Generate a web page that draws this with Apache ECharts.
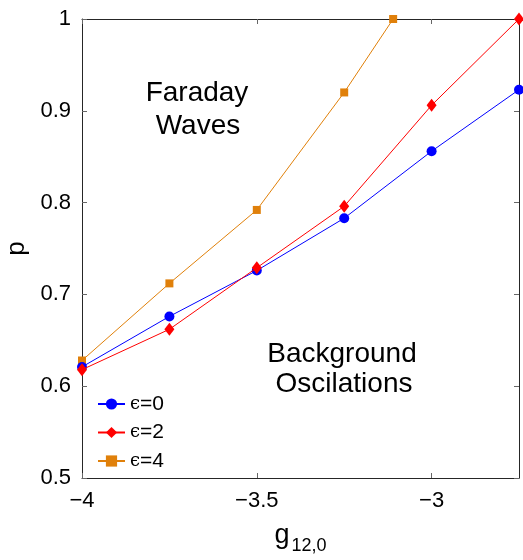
<!DOCTYPE html>
<html>
<head>
<meta charset="utf-8">
<script src="https://cdn.jsdelivr.net/npm/echarts@6/dist/echarts.min.js"></script>
<style>
  html, body { margin: 0; padding: 0; background: #fff; }
  #chart { width: 523px; height: 560px; }
</style>
</head>
<body>
<div id="chart"></div>
<script>
// data
var xEps0 = [-4, -3.75, -3.5, -3.25, -3, -2.75]
var yEps0 = [0.621, 0.676, 0.726, 0.783, 0.856, 0.923]
var xEps2 = [-4, -3.75, -3.5, -3.25, -3, -2.75]
var yEps2 = [0.618, 0.662, 0.729, 0.796, 0.906, 1.0]
var xEps4 = [-4, -3.75, -3.5, -3.25, -3.11]
var yEps4 = [0.628, 0.712, 0.792, 0.92, 1.0]
var seriesNames = ['ϵ=0', 'ϵ=2', 'ϵ=4']

function pairs(xs, ys) {
  return xs.map(function (x, i) { return [x, ys[i]] })
}

var font = 'Liberation Sans, Arial, sans-serif'
var frame = '#262626'

var chart = echarts.init(document.getElementById('chart'))
chart.setOption({
  animation: false,
  grid: { left: 82, right: 4, top: 19, bottom: 82, outerBoundsMode: 'none' },
  legend: {
    orient: 'vertical',
    left: 92,
    top: 388,
    itemWidth: 27,
    itemHeight: 14,
    itemGap: 6.5,
    data: seriesNames,
    formatter: function (name) {
      return '{e|ϵ}' + name.slice(1)
    },
    textStyle: {
      fontFamily: font,
      fontSize: 21,
      lineHeight: 22,
      color: '#000',
      rich: {
        e: { fontFamily: 'DejaVu Serif, serif', fontSize: 18, lineHeight: 22, color: '#000' }
      }
    }
  },
  xAxis: [
    {
      type: 'value',
      min: -4,
      max: -2.75,
      interval: 0.5,
      name: '{g|g}{s|12,0}',
      nameLocation: 'middle',
      nameGap: 44,
      nameTextStyle: {
        rich: {
          g: { fontFamily: font, fontSize: 27, color: '#000', padding: [0, 2, 8, 0] },
          s: { fontFamily: font, fontSize: 18, color: '#000', padding: [14, 0, 0, 0] }
        }
      },
      axisLine: { lineStyle: { color: frame, width: 1 } },
      axisTick: { inside: true, length: 5, lineStyle: { color: '#666' } },
      axisLabel: {
        fontFamily: font, fontSize: 22, color: '#000', margin: 12, showMaxLabel: false,
        formatter: function (v) { return String(v).replace('-', '\u2212') }
      },
      splitLine: { show: false }
    },
    {
      type: 'value',
      position: 'top',
      min: -4,
      max: -2.75,
      interval: 0.5,
      axisLine: { lineStyle: { color: frame, width: 1 } },
      axisTick: { inside: true, length: 5, lineStyle: { color: '#666' } },
      axisLabel: { show: false },
      splitLine: { show: false }
    }
  ],
  yAxis: [
    {
      type: 'value',
      min: 0.5,
      max: 1,
      interval: 0.1,
      name: 'p',
      nameLocation: 'middle',
      nameGap: 51,
      nameRotate: 90,
      nameTextStyle: { fontFamily: font, fontSize: 26, color: '#000' },
      axisLine: { show: true, lineStyle: { color: frame, width: 1 } },
      axisTick: { show: true, inside: true, length: 5, lineStyle: { color: '#666' } },
      axisLabel: {
        fontFamily: font, fontSize: 22, color: '#000', margin: 11,
        formatter: function (v) { return String(Math.round(v * 10) / 10) }
      },
      splitLine: { show: false }
    },
    {
      type: 'value',
      position: 'right',
      min: 0.5,
      max: 1,
      interval: 0.1,
      axisLine: { show: true, lineStyle: { color: frame, width: 1 } },
      axisTick: { show: true, inside: true, length: 5, lineStyle: { color: '#666' } },
      axisLabel: { show: false },
      splitLine: { show: false }
    }
  ],
  graphic: [
    { type: 'text', x: 197, y: 93, style: { text: 'Faraday', font: '28px ' + font, fill: '#000', align: 'center', verticalAlign: 'middle' } },
    { type: 'text', x: 198, y: 126, style: { text: 'Waves', font: '28px ' + font, fill: '#000', align: 'center', verticalAlign: 'middle' } },
    { type: 'text', x: 342, y: 354, style: { text: 'Background', font: '28px ' + font, fill: '#000', align: 'center', verticalAlign: 'middle' } },
    { type: 'text', x: 344, y: 384, style: { text: 'Oscilations', font: '28px ' + font, fill: '#000', align: 'center', verticalAlign: 'middle' } }
  ],
  series: [
    {
      name: seriesNames[0],
      type: 'line',
      data: pairs(xEps0, yEps0),
      symbol: 'circle',
      symbolSize: 10,
      itemStyle: { color: '#0000ff' },
      lineStyle: { color: '#0000ff', width: 1 },
      z: 3
    },
    {
      name: seriesNames[1],
      type: 'line',
      data: pairs(xEps2, yEps2),
      symbol: 'diamond',
      symbolSize: [10, 13],
      itemStyle: { color: '#ff0000' },
      lineStyle: { color: '#ff0000', width: 1 },
      z: 4
    },
    {
      name: seriesNames[2],
      type: 'line',
      data: pairs(xEps4, yEps4),
      symbol: 'rect',
      symbolSize: 8,
      itemStyle: { color: '#e0800a' },
      lineStyle: { color: '#e0800a', width: 1 },
      z: 2
    }
  ]
})
</script>
</body>
</html>
